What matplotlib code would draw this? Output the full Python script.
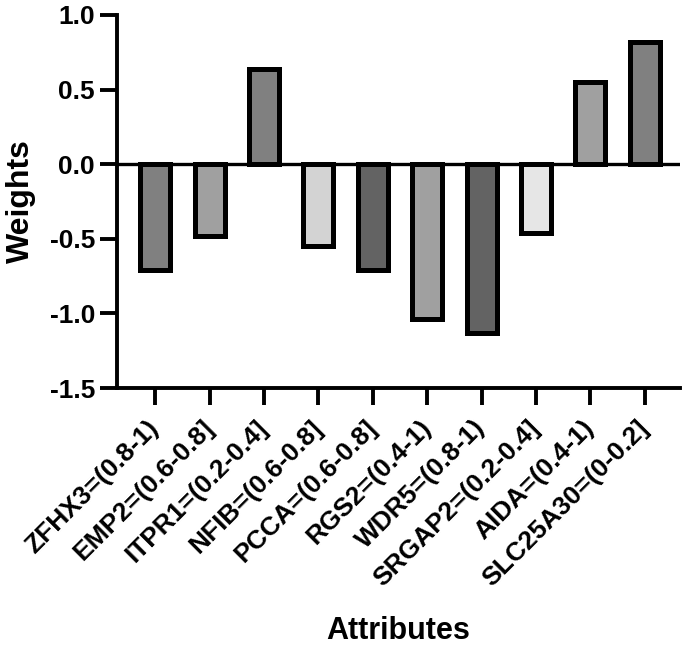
import matplotlib
matplotlib.use('Agg')
import matplotlib.pyplot as plt

# data
attributes = ['ZFHX3=(0.8-1)', 'EMP2=(0.6-0.8]', 'ITPR1=(0.2-0.4]', 'NFIB=(0.6-0.8]',
              'PCCA=(0.6-0.8]', 'RGS2=(0.4-1)', 'WDR5=(0.8-1)', 'SRGAP2=(0.2-0.4]',
              'AIDA=(0.4-1)', 'SLC25A30=(0-0.2]']
weights = [-0.71, -0.48, 0.64, -0.55, -0.71, -1.04, -1.13, -0.46, 0.55, 0.82]
bar_colors = ['#808080', '#a0a0a0', '#808080', '#d3d3d3', '#636363',
              '#a0a0a0', '#636363', '#e6e6e6', '#a0a0a0', '#808080']
yticks = [-1.5, -1.0, -0.5, 0.0, 0.5, 1.0]

plt.rcParams['font.family'] = ['Liberation Sans', 'DejaVu Sans']
plt.rcParams['font.weight'] = 'bold'

fig = plt.figure(figsize=(6.85, 6.5), dpi=100)
ax = fig.add_axes([0.171, 0.403, 0.822, 0.574])

x = list(range(len(attributes)))
ax.bar(x, weights, width=0.55, color=bar_colors, edgecolor='black', linewidth=3.6, zorder=3)
ax.axhline(0, color='black', linewidth=2.4, zorder=4)

ax.set_xlim(-0.7, 9.65)
ax.set_ylim(-1.5, 1.0)
ax.set_yticks(yticks)
ax.set_yticklabels(['%.1f' % v for v in yticks], fontsize=19, fontweight='bold')
ax.set_xticks(x)
ax.set_xticklabels(attributes, rotation=45, ha='right', va='center',
                   rotation_mode='anchor', fontsize=19, fontweight='bold')

for s in ['top', 'right']:
    ax.spines[s].set_visible(False)
for s in ['left', 'bottom']:
    ax.spines[s].set_linewidth(2.8)
ax.tick_params(axis='both', width=2.8, length=12)
ax.tick_params(axis='y', pad=4)
ax.tick_params(axis='x', pad=14)

ax.set_ylabel('Weights', fontsize=23, fontweight='bold', labelpad=10)
ax.set_xlabel('Attributes', fontsize=22, fontweight='bold', labelpad=18)

fig.savefig('out.png', dpi=100)
